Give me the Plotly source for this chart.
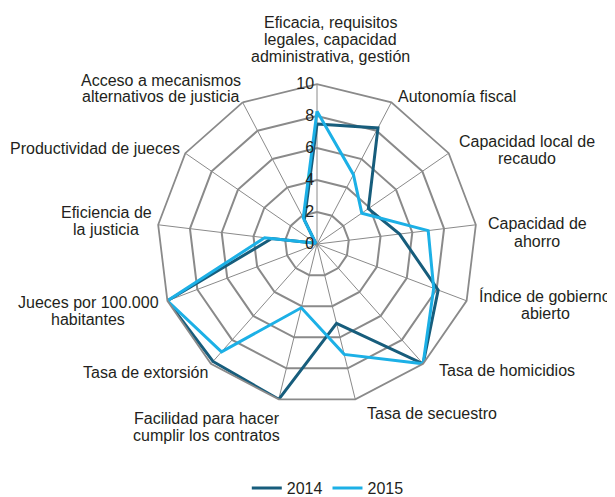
import plotly.graph_objects as go

# categorias del indice (en orden horario desde arriba)
CATEGORIAS = [
    'Eficacia, requisitos legales, capacidad administrativa, gestión',
    'Autonomía fiscal',
    'Capacidad local de recaudo',
    'Capacidad de ahorro',
    'Índice de gobierno abierto',
    'Tasa de homicidios',
    'Tasa de secuestro',
    'Facilidad para hacer cumplir los contratos',
    'Tasa de extorsión',
    'Jueces por 100.000 habitantes',
    'Eficiencia de la justicia',
    'Productividad de jueces',
    'Acceso a mecanismos alternativos de justicia',
]
VALORES_2014 = [7.5, 8.2, 3.9, 5.2, 8.1, 10.0, 5.1, 10.0, 9.8, 10.0, 2.85, 0.1, 1.7]
VALORES_2015 = [8.3, 4.9, 3.4, 7.0, 7.8, 10.0, 7.1, 4.1, 9.0, 10.0, 3.3, 0.1, 1.85]
TICKS = [0, 2, 4, 6, 8, 10]

# etiquetas partidas en lineas, como en el original
LINEAS = [
    ['Eficacia, requisitos', 'legales, capacidad', 'administrativa, gestión'],
    ['Autonomía fiscal'],
    ['Capacidad local de', 'recaudo'],
    ['Capacidad de', 'ahorro'],
    ['Índice de gobierno', 'abierto'],
    ['Tasa de homicidios'],
    ['Tasa de secuestro'],
    ['Facilidad para hacer', 'cumplir los contratos'],
    ['Tasa de extorsión'],
    ['Jueces por 100.000', 'habitantes'],
    ['Eficiencia de', 'la justicia'],
    ['Productividad de jueces'],
    ['Acceso a mecanismos', 'alternativos de justicia'],
]
# posicion (px de pantalla) del centro de la primera linea de cada etiqueta
POS_ETIQ = [
    (331, 23), (457, 97), (527, 141), (537, 224), (545, 296), (507, 370),
    (432, 413), (207, 418), (145, 372), (88, 302), (106, 212), (95, 148), (161, 80),
]
INTERLINEA = 17
MARGEN_PAGINA = 8  # margen del body en el html

COLOR_2014 = '#175d7c'
COLOR_2015 = '#1cb0e6'
GRIS = '#8a8a8a'
W, H = 615, 497


def cerrar(v):
    return v + v[:1]


fig = go.Figure()
fig.add_trace(go.Scatterpolar(
    r=cerrar(VALORES_2014), theta=cerrar(CATEGORIAS),
    mode='lines', name='2014',
    line=dict(color=COLOR_2014, width=3),
))
fig.add_trace(go.Scatterpolar(
    r=cerrar(VALORES_2015), theta=cerrar(CATEGORIAS),
    mode='lines', name='2015',
    line=dict(color=COLOR_2015, width=3),
))

for lineas, (px, py) in zip(LINEAS, POS_ETIQ):
    for i, txt in enumerate(lineas):
        fig.add_annotation(
            text=txt, xref='paper', yref='paper',
            x=(px - MARGEN_PAGINA) / W,
            y=1 - (py - MARGEN_PAGINA + i * INTERLINEA) / H,
            xanchor='center', yanchor='middle', showarrow=False,
            font=dict(size=16, color='#231f20'),
        )

fig.update_layout(
    width=W, height=H,
    margin=dict(l=0, r=0, t=0, b=0),
    paper_bgcolor='white',
    font=dict(family='Liberation Sans, Arial, sans-serif', size=16, color='#231f20'),
    showlegend=True,
    legend=dict(orientation='h', x=0.52, xanchor='center', y=0.0, yanchor='bottom',
                font=dict(size=16)),
    polar=dict(
        domain=dict(x=[0.2423, 0.7626], y=[0.203, 0.847]),
        bgcolor='white',
        gridshape='linear',
        radialaxis=dict(
            range=[0, 10], tickvals=TICKS, angle=90, tickangle=90,
            side='counterclockwise',
            showline=False, ticks='', gridcolor=GRIS, gridwidth=1.6,
            tickfont=dict(size=16, color='#231f20'),
        ),
        angularaxis=dict(
            rotation=90, direction='clockwise',
            gridcolor=GRIS, gridwidth=1.3,
            linecolor=GRIS, linewidth=1.8,
            ticks='', showticklabels=False,
        ),
    ),
)

fig.write_html('out.html')
